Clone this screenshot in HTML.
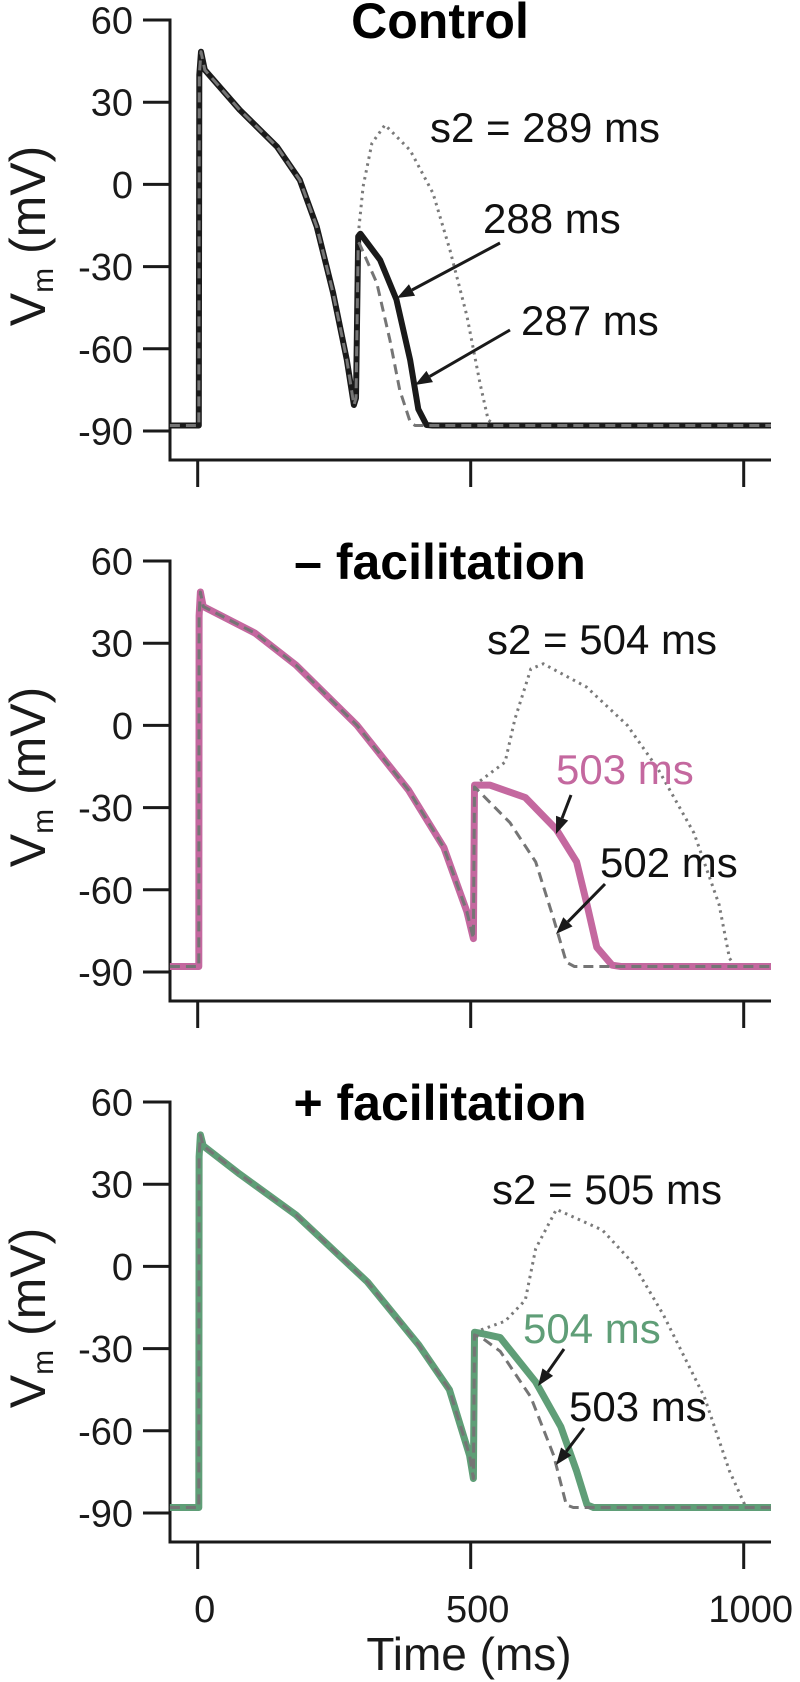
<!DOCTYPE html>
<html><head><meta charset="utf-8"><style>
html,body{margin:0;padding:0;background:#fff;}
svg{display:block;font-family:"Liberation Sans",Arial,sans-serif;}
</style></head><body>
<svg id="chart" width="800" height="1682" viewBox="0 0 800 1682" xmlns="http://www.w3.org/2000/svg"></svg>
<script>
// ---- data ----
const yTicks = [60, 30, 0, -30, -60, -90];
const xTicks = [0, 500, 1000];
const titles = ["Control", "\u2013 facilitation", "+ facilitation"];
const mainColors = ["#1a1a1a", "#c4689f", "#5f9e77"];
const restV = -88;
const tStart = -51, tEnd = 1050;

// Panel 1 (Control)
const p1ApT = [-51, 2, 3, 6, 13, 77, 145, 187, 218, 248, 273, 286, 290];
const p1ApV = [-88, -88, 40, 48.4, 41.8, 27.2, 13.8, 1.6, -15.4, -39.6, -64, -80.5, -78];
const p1SolidT = [294, 298, 334, 364, 389, 404, 419, 430];
const p1SolidV = [-19, -18, -27.6, -42, -64, -82, -87.8, -88];
const p1DashT = [294, 296, 328, 352, 370, 389, 398];
const p1DashV = [-22, -21.5, -36, -56.8, -75, -86.6, -88];
const p1DotT = [294, 303, 319, 343, 389, 431, 462, 493, 517, 532, 545];
const p1DotV = [-18.5, -0.8, 15, 21.7, 12.5, -3.2, -24, -48, -72.6, -86, -88];

// Panel 2 (- facilitation)
const p2ApT = [-51, 2, 2.5, 5, 10, 105, 180, 292, 386, 451, 493, 505];
const p2ApV = [-88, -88, 40, 48.7, 43.4, 33.7, 22, 0, -23.6, -44.6, -68, -77.8];
const p2SolidT = [507, 535, 600, 657, 694, 713, 731, 759, 775];
const p2SolidV = [-21.8, -21.8, -26.3, -38, -49.8, -65.4, -81, -87.5, -88];
const p2DashT = [507, 515, 572, 619, 652, 675, 690];
const p2DashV = [-22.5, -24, -35.5, -49.8, -70.7, -86.4, -88];
const p2DotT = [507, 563, 581, 610, 633, 712, 787, 843, 909, 955, 974, 985];
const p2DotV = [-21.8, -13.4, 2.3, 20.6, 22.5, 14, 0, -15.9, -39.3, -65.4, -85, -88];

// Panel 3 (+ facilitation)
const p3ApT = [-51, 2, 2.5, 5, 10, 77, 180, 311, 405, 461, 498, 505];
const p3ApV = [-88, -88, 40, 48, 44, 33.7, 18.8, -5.7, -28.7, -45, -69, -77.4];
const p3SolidT = [507, 520, 554, 619, 665, 694, 713, 725];
const p3SolidV = [-24, -24.5, -26, -42.2, -58.5, -74.7, -87, -88];
const p3DashT = [507, 520, 554, 610, 652, 675, 688];
const p3DashV = [-25, -26, -31, -47.7, -69, -87, -88];
const p3DotT = [507, 563, 600, 619, 657, 741, 797, 853, 928, 974, 1002, 1015];
const p3DotV = [-24, -20, -12.3, 6.5, 20.8, 13.3, 1.2, -17.7, -47.7, -74.7, -87, -88];

const panelsData = [
  {apT:p1ApT, apV:p1ApV, sT:p1SolidT, sV:p1SolidV, dT:p1DashT, dV:p1DashV, oT:p1DotT, oV:p1DotV},
  {apT:p2ApT, apV:p2ApV, sT:p2SolidT, sV:p2SolidV, dT:p2DashT, dV:p2DashV, oT:p2DotT, oV:p2DotV},
  {apT:p3ApT, apV:p3ApV, sT:p3SolidT, sV:p3SolidV, dT:p3DashT, dV:p3DashV, oT:p3DotT, oV:p3DotV}
];
const s2Labels = ["s2 = 289 ms", "s2 = 504 ms", "s2 = 505 ms"];
const solidLabels = ["288 ms", "503 ms", "504 ms"];
const dashLabels = ["287 ms", "502 ms", "503 ms"];

// ---- layout ----
const NS = "http://www.w3.org/2000/svg";
const svg = document.getElementById("chart");
const panelTop = [20, 561, 1102];
const pxPerMv = 2.74;
const x0 = 197.7, pxPerMs = 0.546;
const axisLeft = 170, axisRight = 771;
function xs(t){ return x0 + t * pxPerMs; }
function ysFn(p){ return v => panelTop[p] + (60 - v) * pxPerMv; }
function mk(tag, attrs, parent){
  const el = document.createElementNS(NS, tag);
  for (const k in attrs) el.setAttribute(k, attrs[k]);
  (parent || svg).appendChild(el);
  return el;
}
function pathD(T, V, ys){
  return T.map((t,i)=>(i?"L":"M")+xs(t).toFixed(1)+","+ys(V[i]).toFixed(1)).join(" ");
}

// label placements (pixel positions, not data)
const s2Pos = [[430,142],[487,654],[492,1204]];
const solidPos = [[483,233],[556,784],[523,1343]];
const dashPos = [[521,335],[600,877],[569,1421]];
const solidArrow = [[500,243,397,298],[571,795,556,834],[564,1349,538,1386]];
const dashArrow = [[510,330,415,385],[605,884,556,934],[584,1428,556,1465]];

function arrow(g, a, name){
  const [x1,y1,x2,y2] = a;
  const ang = Math.atan2(y2-y1, x2-x1);
  const L = 17, W = 6.5;
  const bx = x2 - L*Math.cos(ang), by = y2 - L*Math.sin(ang);
  const ln = mk("line", {x1:x1, y1:y1, x2:bx, y2:by, stroke:"#1a1a1a", "stroke-width":3}, g);
  
  
  const px = -Math.sin(ang)*W, py = Math.cos(ang)*W;
  const hd = mk("polygon", {points:`${x2},${y2} ${bx+px},${by+py} ${bx-px},${by-py}`, fill:"#1a1a1a"}, g);
  
  
}

for (let p = 0; p < 3; p++){
  const ys = ysFn(p);
  const d = panelsData[p];
  const g = mk("g", {});
  
  

  // axes
  const yAx = mk("line", {x1:axisLeft, y1:ys(60)-1.5, x2:axisLeft, y2:ys(-90)+29, stroke:"#1a1a1a", "stroke-width":3}, g);
  
  
  const axY = ys(-90) + 29;
  const xAx = mk("line", {x1:axisLeft-1.5, y1:axY, x2:axisRight, y2:axY, stroke:"#1a1a1a", "stroke-width":3}, g);
  
  

  yTicks.forEach(v => {
    const tk = mk("line", {x1:143, y1:ys(v), x2:axisLeft, y2:ys(v), stroke:"#1a1a1a", "stroke-width":3}, g);
    
    
    const tl = mk("text", {x:133, y:ys(v)+13.5, "text-anchor":"end", "font-size":38, fill:"#1a1a1a"}, g);
    
    
    tl.textContent = String(v);
  });
  xTicks.forEach(t => {
    const tk = mk("line", {x1:xs(t), y1:axY, x2:xs(t), y2:axY+27, stroke:"#1a1a1a", "stroke-width":3}, g);
    
    
    if (p === 2){
      const tl = mk("text", {x:xs(t)+7, y:1622, "text-anchor":"middle", "font-size":38, fill:"#1a1a1a"}, g);
      
      
      tl.textContent = String(t);
    }
  });

  // y-axis title
  const cy = panelTop[p] + 216;
  const yt = mk("text", {x:0, y:0, transform:`translate(45,${cy}) rotate(-90)`, "text-anchor":"middle", "font-size":50, fill:"#1a1a1a"}, g);
  
  
  yt.innerHTML = 'V<tspan font-size="30" dy="8">m</tspan><tspan dy="-8"> (mV)</tspan>';

  // title
  const tt = mk("text", {x:440, y:panelTop[p]+18, "text-anchor":"middle", "font-size":50, "font-weight":"bold", fill:"#000"}, g);
  
  
  tt.textContent = titles[p];

  // traces
  const tailS = d.sT[d.sT.length-1], tailD = d.dT[d.dT.length-1], tailO = d.oT[d.oT.length-1];
  const solidT = d.apT.concat(d.sT, [tEnd]), solidV = d.apV.concat(d.sV, [restV]);
  const dashT = d.apT.concat(d.dT, [tEnd]), dashV = d.apV.concat(d.dV, [restV]);

  const dot = mk("path", {d:pathD(d.oT, d.oV, ys), fill:"none", stroke:"#7a7a7a", "stroke-width":3, "stroke-dasharray":"2.5,4.5"}, g);
  
  
  const sol = mk("path", {d:pathD(solidT, solidV, ys), fill:"none", stroke:mainColors[p], "stroke-width":p===0?6:7, "stroke-linejoin":"round"}, g);
  
  
  const das = mk("path", {d:pathD(dashT, dashV, ys), fill:"none", stroke:"#757575", "stroke-width":3, "stroke-dasharray":"10,6", "stroke-linejoin":"round"}, g);
  
  

  // labels
  const l1 = mk("text", {x:s2Pos[p][0], y:s2Pos[p][1], "font-size":42, fill:"#111"}, g);
  
  
  l1.textContent = s2Labels[p];
  const l2 = mk("text", {x:solidPos[p][0], y:solidPos[p][1], "font-size":42, fill:p===0?"#111":mainColors[p]}, g);
  
  
  l2.textContent = solidLabels[p];
  const l3 = mk("text", {x:dashPos[p][0], y:dashPos[p][1], "font-size":42, fill:"#111"}, g);
  
  
  l3.textContent = dashLabels[p];
  arrow(g, solidArrow[p], 'solid-arrow');
  arrow(g, dashArrow[p], 'dashed-arrow');
}
const xt = mk("text", {x:469, y:1670, "text-anchor":"middle", "font-size":46, fill:"#1a1a1a"});


xt.textContent = "Time (ms)";
</script>
</body></html>
